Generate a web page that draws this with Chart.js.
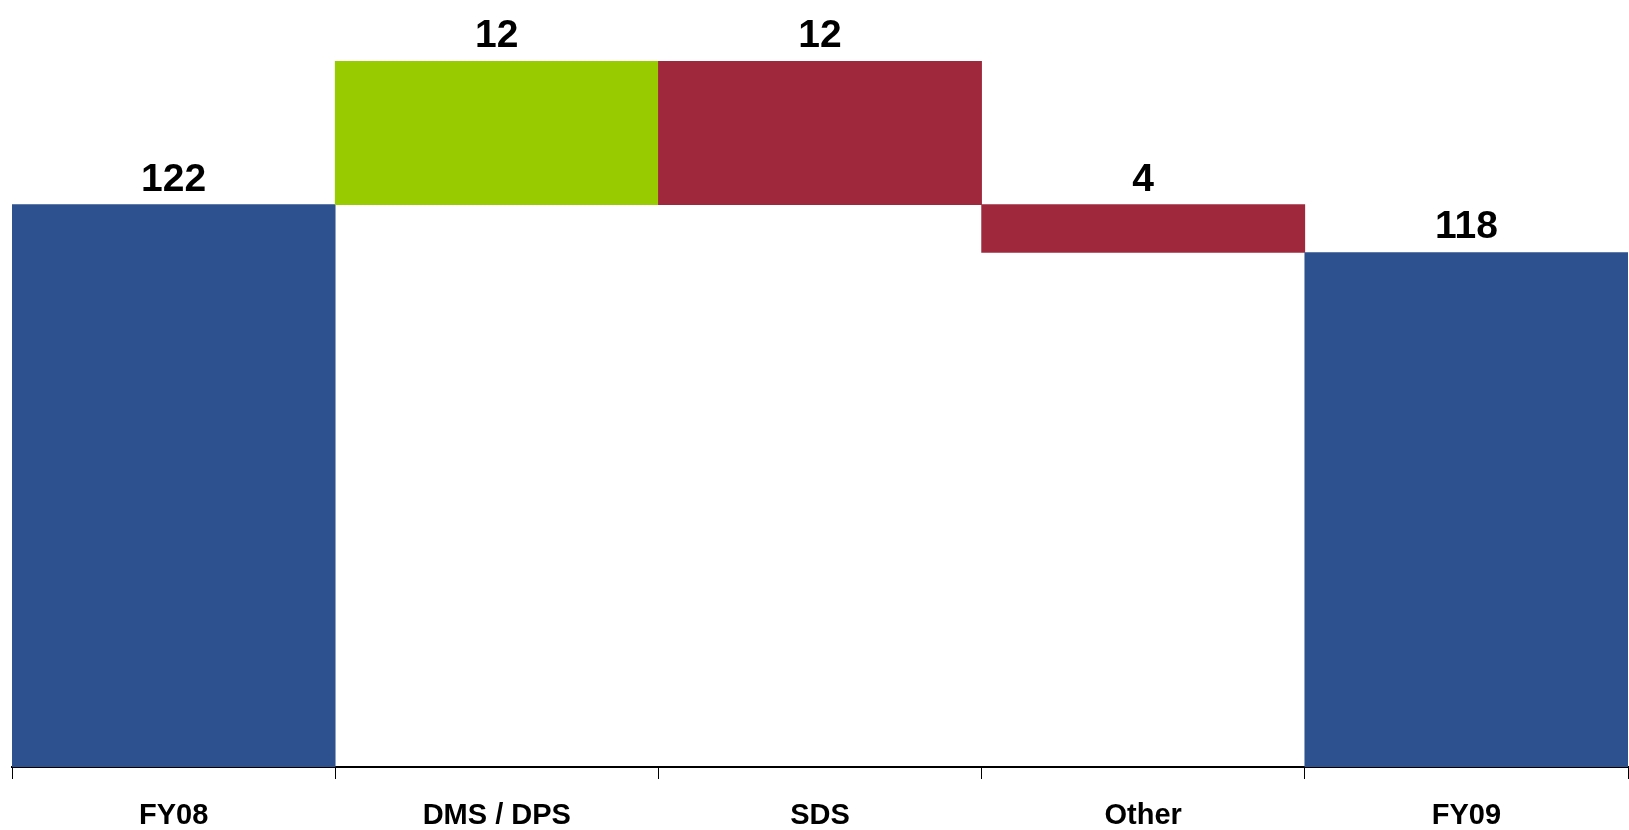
<!DOCTYPE html>
<html>
<head>
<meta charset="utf-8">
<script src="https://cdn.jsdelivr.net/npm/chart.js@4.4.1/dist/chart.umd.min.js"></script>
<style>
  html, body { margin: 0; padding: 0; background: #ffffff; }
  #wrap { width: 1629px; height: 830px; position: relative; }
</style>
</head>
<body>
<div id="wrap"><canvas id="chart"></canvas></div>
<script>
// Bridge from FY08 to FY09
const categories = ['FY08', 'DMS / DPS', 'SDS', 'Other', 'FY09'];
const startTotal = 122;
const changes = [12, -12, -4];
const endTotal = 118;

const COLOR_TOTAL = '#2D508E';
const COLOR_UP = '#99CC00';
const COLOR_DOWN = '#A0283C';

// Build floating bars for the steps of the bridge
const barData = [startTotal];
const barColors = [COLOR_TOTAL];
const barLabels = [String(startTotal)];
let running = startTotal;
changes.forEach(function (c) {
  const next = running + c;
  barData.push([Math.min(running, next), Math.max(running, next)]);
  barColors.push(c >= 0 ? COLOR_UP : COLOR_DOWN);
  barLabels.push(String(Math.abs(c)));
  running = next;
});
barData.push(endTotal);
barColors.push(COLOR_TOTAL);
barLabels.push(String(endTotal));

// Value labels above each bar
const valueLabels = {
  id: 'valueLabels',
  afterDatasetsDraw(chart) {
    const ctx = chart.ctx;
    const meta = chart.getDatasetMeta(0);
    ctx.save();
    ctx.font = 'bold 39px "Liberation Sans", Arial, sans-serif';
    ctx.fillStyle = '#000000';
    ctx.textAlign = 'center';
    ctx.textBaseline = 'alphabetic';
    meta.data.forEach(function (bar, i) {
      const top = Math.min(bar.y, bar.base);
      ctx.fillText(barLabels[i], bar.x, top - 14);
    });
    ctx.restore();
  }
};

new Chart(document.getElementById('chart'), {
  type: 'bar',
  data: {
    labels: categories,
    datasets: [{
      data: barData,
      backgroundColor: barColors,
      borderWidth: 0,
      barPercentage: 1.0,
      categoryPercentage: 1.0
    }]
  },
  options: {
    responsive: true,
    maintainAspectRatio: false,
    animation: false,
    layout: { padding: { top: 61, left: 12, right: 1, bottom: 0 } },
    plugins: {
      legend: { display: false },
      tooltip: { enabled: false }
    },
    scales: {
      x: {
        afterFit: function (scale) { scale.height = 63; },
        grid: {
          offset: true,
          drawOnChartArea: false,
          drawTicks: true,
          tickLength: 12,
          color: '#000000',
          lineWidth: 1
        },
        border: { display: true, color: '#000000', width: 2 },
        ticks: {
          color: '#000000',
          padding: 20,
          font: { family: '"Liberation Sans", Arial, sans-serif', size: 29, weight: 'bold' }
        }
      },
      y: {
        display: false,
        min: 75,
        max: 134
      }
    }
  },
  plugins: [valueLabels]
});
</script>
</body>
</html>
